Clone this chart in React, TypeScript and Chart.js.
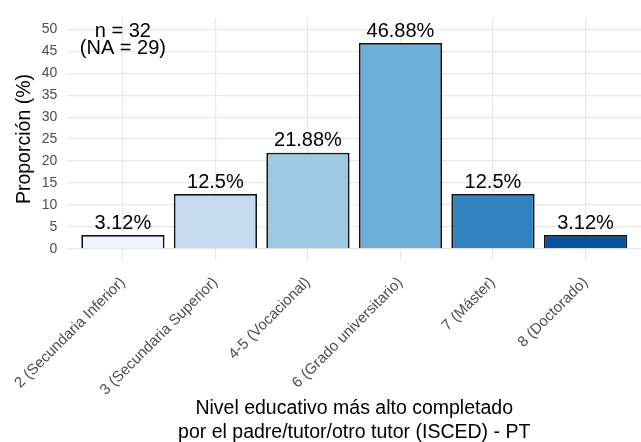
import React, { useEffect, useRef } from 'react';
import { Chart, registerables } from 'chart.js';

Chart.register(...registerables);

const categories = [
  '2 (Secundaria Inferior)',
  '3 (Secundaria Superior)',
  '4-5 (Vocacional)',
  '6 (Grado universitario)',
  '7 (Máster)',
  '8 (Doctorado)',
];
const proportions = [3.12, 12.5, 21.88, 46.88, 12.5, 3.12];
const barColors = ['#EFF3FF', '#C6DBEF', '#9ECAE1', '#6BAED6', '#3182BD', '#08519C'];
const yTickValues = [0, 5, 10, 15, 20, 25, 30, 35, 40, 45, 50];
const annotationLines = ['n = 32', '(NA = 29)'];
const annotationAt = { x: 0, y: 50 };
const xTitle = ['Nivel educativo más alto completado', 'por el padre/tutor/otro tutor (ISCED) - PT'];
const yTitle = 'Proporción (%)';
const yMin = -2.5;
const yMax = 52.5;

const FONT = "'Liberation Sans', Arial, sans-serif";

const labelPlugin = {
  id: 'valueLabels',
  afterDatasetsDraw(chart: any) {
    const ctx = chart.ctx;
    const meta = chart.getDatasetMeta(0);
    ctx.save();
    ctx.font = `20px ${FONT}`;
    ctx.fillStyle = '#000000';
    ctx.textAlign = 'center';
    ctx.textBaseline = 'alphabetic';
    meta.data.forEach((bar: any, i: number) => {
      ctx.fillText(`${proportions[i]}%`, bar.x, bar.y - 6.3);
    });
    const ax = chart.scales.x.getPixelForValue(annotationAt.x);
    const ay = chart.scales.y.getPixelForValue(annotationAt.y);
    ctx.fillText(annotationLines[0], ax, ay + 7.5);
    ctx.fillText(annotationLines[1], ax, ay + 24.5);
    ctx.restore();
  },
};

export default function App() {
  const canvasRef = useRef<HTMLCanvasElement | null>(null);

  useEffect(() => {
    document.body.style.margin = '0';
    const canvas = canvasRef.current;
    if (!canvas) return;
    Chart.defaults.font.family = FONT;
    const chart = new Chart(canvas, {
      type: 'bar',
      data: {
        datasets: [
          {
            data: categories.map((_, i) => ({ x: i, y: proportions[i] })),
            backgroundColor: barColors,
            borderColor: '#111111',
            borderWidth: 1.8,
            barPercentage: 0.9,
            categoryPercentage: 1,
          },
        ],
      },
      options: {
        animation: false,
        responsive: false,
        maintainAspectRatio: false,
        layout: { padding: { top: 9.3, right: 0, bottom: 0, left: 0 } },
        plugins: {
          legend: { display: false },
          tooltip: { enabled: false },
        },
        scales: {
          x: {
            type: 'linear',
            min: -0.6,
            max: 5.6,
            offset: false,
            border: { display: false },
            grid: { color: '#E8E8E8', lineWidth: 1.2, drawTicks: false, offset: false },
            ticks: {
              stepSize: 1,
              includeBounds: false,
              autoSkip: false,
              maxRotation: 45,
              minRotation: 45,
              padding: 14,
              color: '#4D4D4D',
              font: { size: 15, family: FONT },
              callback: (v: any) => categories[v] ?? '',
            },
            title: {
              display: true,
              text: xTitle,
              color: '#000000',
              font: { size: 19.5, family: FONT, lineHeight: 1.22 },
              padding: { top: 0, bottom: -2.5 },
            },
            afterFit: (scale: any) => {
              scale.height = 182.3;
              scale.paddingLeft = 0;
              scale.paddingRight = 0;
            },
          },
          y: {
            type: 'linear',
            min: yMin,
            max: yMax,
            border: { display: false },
            grid: { color: '#E8E8E8', lineWidth: 1.2, drawTicks: false },
            afterBuildTicks: (scale: any) => {
              scale.ticks = yTickValues.map((v) => ({ value: v }));
            },
            ticks: {
              padding: 10,
              color: '#4D4D4D',
              font: { size: 14, family: FONT },
            },
            title: {
              display: true,
              text: yTitle,
              color: '#000000',
              font: { size: 19.5, family: FONT, lineHeight: 1.2 },
              padding: { top: 13.3, bottom: 0 },
            },
            afterFit: (scale: any) => {
              scale.width = 67.4;
            },
          },
        },
      },
      plugins: [labelPlugin],
    } as any);
    return () => chart.destroy();
  }, []);

  return (
    <div style={{ width: 641, height: 442, position: 'absolute', left: 0, top: 0 }}>
      <canvas ref={canvasRef} width={641} height={442} style={{ width: 641, height: 442 }} />
    </div>
  );
}
